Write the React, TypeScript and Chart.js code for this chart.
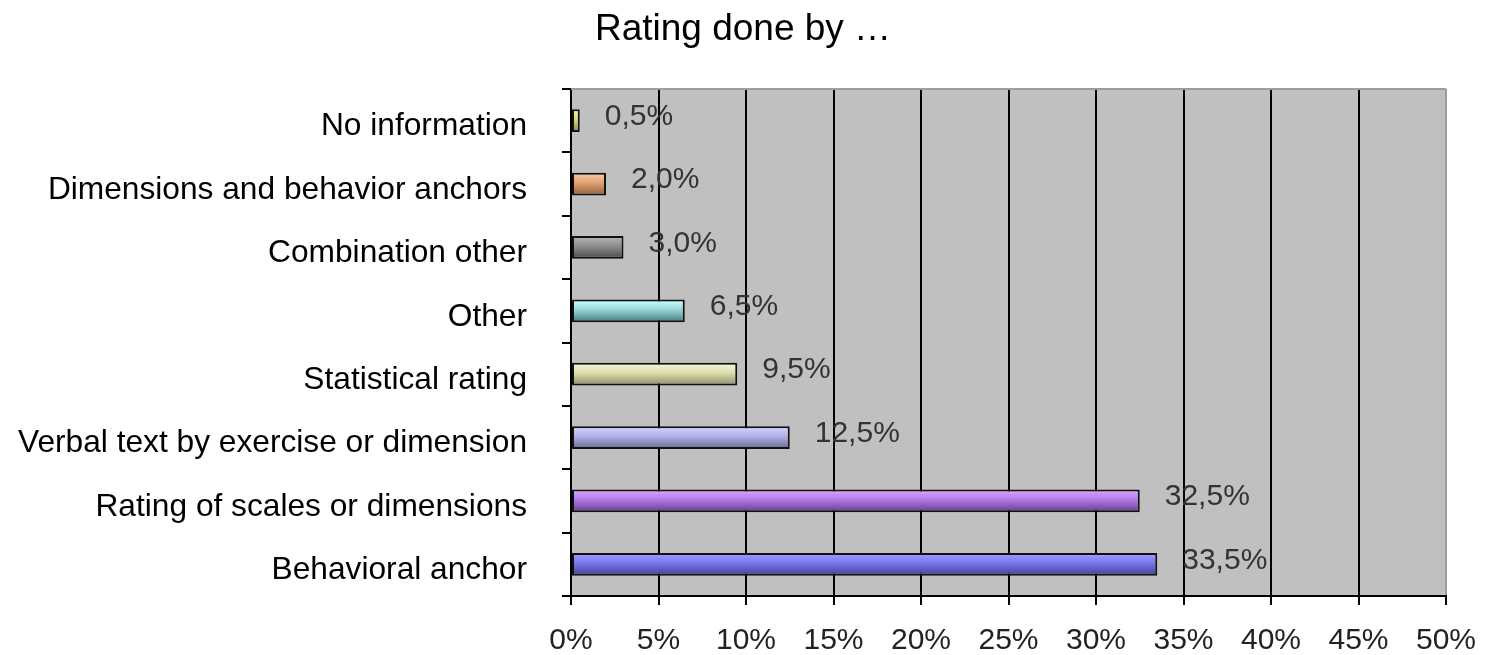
import React, { useEffect, useRef } from "react";
import { Chart, registerables } from "chart.js";

Chart.register(...registerables);

const title = "Rating done by …";
const categories = [
  "No information",
  "Dimensions and behavior anchors",
  "Combination other",
  "Other",
  "Statistical rating",
  "Verbal text by exercise or dimension",
  "Rating of scales or dimensions",
  "Behavioral anchor",
];
const values = [0.5, 2.0, 3.0, 6.5, 9.5, 12.5, 32.5, 33.5];
const lightColors = ["#f6f6a8", "#fcd0a8", "#b8b8b8", "#d0ffff", "#fafad8", "#d8d8ff", "#dca8ff", "#a0a0ff"];
const baseColors = ["#d8d870", "#e0a070", "#8c8c8c", "#98d8d8", "#dcdcac", "#b0b0e8", "#b078e8", "#7878ee"];
const darkColors = ["#8c8c40", "#906040", "#484848", "#487878", "#8c8c6c", "#68688c", "#604080", "#404090"];
const xTicks = [0, 5, 10, 15, 20, 25, 30, 35, 40, 45, 50];

const FONT = "'Liberation Sans', Arial, sans-serif";
const BAR_PCT = 0.36;

export default function App() {
  const ref = useRef<HTMLCanvasElement | null>(null);

  useEffect(() => {
    if (!ref.current) return;

    const plotBg = {
      id: "plotBg",
      beforeDraw(chart: any) {
        const { ctx, chartArea } = chart;
        ctx.save();
        ctx.fillStyle = "#c0c0c0";
        ctx.fillRect(chartArea.left, chartArea.top, chartArea.right - chartArea.left, chartArea.bottom - chartArea.top);
        ctx.restore();
      },
      beforeDatasetsDraw(chart: any) {
        const { ctx, chartArea } = chart;
        ctx.save();
        ctx.strokeStyle = "#9c9c9c";
        ctx.lineWidth = 2;
        ctx.beginPath();
        ctx.moveTo(chartArea.left, chartArea.top);
        ctx.lineTo(chartArea.right, chartArea.top);
        ctx.stroke();
        ctx.restore();
      },
    };

    const dataLabels = {
      id: "dataLabels",
      afterDatasetsDraw(chart: any) {
        const { ctx } = chart;
        const meta = chart.getDatasetMeta(0);
        ctx.save();
        ctx.font = `30px ${FONT}`;
        ctx.fillStyle = "#333333";
        ctx.textAlign = "left";
        ctx.textBaseline = "middle";
        meta.data.forEach((el: any, i: number) => {
          const txt = values[i].toFixed(1).replace(".", ",") + "%";
          ctx.fillText(txt, el.x + 25, el.y - 4);
        });
        ctx.restore();
      },
    };

    const chart = new Chart(ref.current, {
      type: "bar",
      data: {
        labels: categories,
        datasets: [
          {
            data: values,
            backgroundColor: (c: any) => {
              const i = c.dataIndex ?? 0;
              const ch = c.chart;
              const y = ch.scales?.y;
              if (!y) return baseColors[i];
              const center = y.getPixelForValue(i);
              const half = Math.abs(y.getPixelForValue(1) - y.getPixelForValue(0)) * BAR_PCT / 2;
              if (!isFinite(center) || !isFinite(half) || half <= 0) return baseColors[i];
              const g = ch.ctx.createLinearGradient(0, center - half, 0, center + half);
              g.addColorStop(0, lightColors[i]);
              g.addColorStop(0.45, baseColors[i]);
              g.addColorStop(1, darkColors[i]);
              return g;
            },
            borderColor: "#111111",
            borderWidth: 2,
            borderSkipped: false,
            barPercentage: BAR_PCT,
            categoryPercentage: 1,
          },
        ],
      },
      options: {
        indexAxis: "y",
        responsive: false,
        animation: false,
        layout: { padding: { left: 0, right: 0, top: 0, bottom: 0 } },
        plugins: {
          legend: { display: false },
          tooltip: { enabled: false },
          title: {
            display: true,
            text: title,
            color: "#000",
            font: { family: FONT, size: 37, weight: "normal" },
            padding: { top: 8, bottom: 36.6 },
          },
        },
        scales: {
          x: {
            type: "linear",
            min: 0,
            max: 50,
            afterBuildTicks: (s: any) => {
              s.ticks = xTicks.map((v) => ({ value: v }));
            },
            afterFit: (s: any) => {
              s.height = 59;
              s.paddingRight = 40;
            },
            ticks: {
              callback: (v: any) => v + "%",
              color: "#222",
              font: { family: FONT, size: 30 },
              padding: 18,
              maxRotation: 0,
              autoSkip: false,
            },
            grid: {
              color: (c: any) => (c.index === xTicks.length - 1 ? "#9c9c9c" : "#000"),
              tickColor: "#000",
              lineWidth: 2,
              tickLength: 9,
            },
            border: { display: true, color: "#000", width: 2 },
          },
          y: {
            afterFit: (s: any) => {
              s.width = 571;
            },
            ticks: {
              color: "#000",
              font: { family: FONT, size: 31.7 },
              padding: 35,
              labelOffset: 6,
              autoSkip: false,
            },
            grid: {
              offset: true,
              drawOnChartArea: false,
              color: "#000",
              lineWidth: 2,
              tickLength: 9,
            },
            border: { display: true, color: "#000", width: 2 },
          },
        },
      },
      plugins: [plotBg, dataLabels],
    } as any);

    return () => chart.destroy();
  }, []);

  return (
    <div style={{ position: "absolute", left: 0, top: 0, width: 1486, height: 655, background: "#fff" }}>
      <canvas ref={ref} width={1486} height={655} />
    </div>
  );
}
